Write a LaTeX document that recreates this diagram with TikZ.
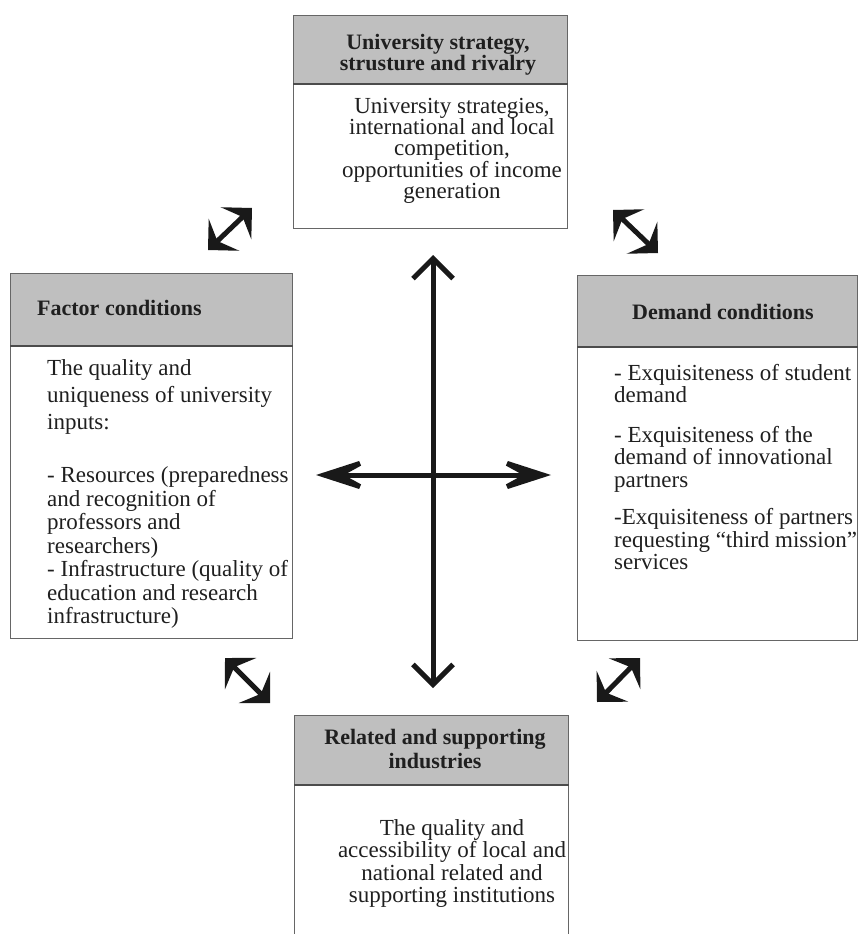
\documentclass[tikz,border=0pt]{standalone}
\usepackage{fontspec}
\setmainfont{Liberation Serif}
\usetikzlibrary{arrows.meta,positioning}
\tikzstyle{headbox}  = [draw=black!60, fill=black!25, line width=0.8pt, inner sep=0pt, anchor=north west]
\tikzstyle{bodybox}  = [draw=black!60, line width=0.8pt, inner sep=0pt, anchor=north west]
\tikzstyle{sepline}  = [draw=black!70, line width=1.6pt]
\tikzstyle{diagarrow} = [line width=5pt, black!90, {Stealth[length=22pt,width=44pt,inset=9pt]}-{Stealth[length=22pt,width=44pt,inset=9pt]}]

\begin{document}
\begin{tikzpicture}[x=1pt, y=-1pt, font=\fontsize{23}{23}\selectfont, text=black!88,
			title/.style={font=\fontsize{22}{22}\selectfont\bfseries, inner sep=0pt},
			txt/.style={inner sep=0pt},
		]
		\useasboundingbox (0,0) rectangle (858,934);

		% boxes
		\node[headbox, minimum width=274pt, minimum height=68pt] (strathead) at (293,15) {};
		\node[bodybox, minimum width=274pt, minimum height=145pt] (stratbody) at (293,83) {};
		\node[headbox, minimum width=282pt, minimum height=72pt] (factorhead) at (10,273) {};
		\node[bodybox, minimum width=282pt, minimum height=293pt] (factorbody) at (10,345) {};
		\node[headbox, minimum width=280pt, minimum height=71pt] (demandhead) at (577,275) {};
		\node[bodybox, minimum width=280pt, minimum height=294pt] (demandbody) at (577,346) {};
		\node[headbox, minimum width=274pt, minimum height=69pt] (relhead) at (294,715) {};
		\node[bodybox, minimum width=274pt, minimum height=170pt] (relbody) at (294,784) {};
		\foreach \b in {strathead,factorhead,demandhead,relhead}
			\draw[sepline] (\b.south west) -- (\b.south east);

		% titles
		\node[title, align=center, anchor=north, font=\fontsize{22}{21}\selectfont\bfseries] (strattitle) at (438,34) {University strategy,\\strusture and rivalry};
		\node[title, anchor=west] (factortitle) at (37,308) {Factor conditions};
		\node[title] (demandtitle) at (723,312) {Demand conditions};
		\node[title, align=center, anchor=north, font=\fontsize{22}{24}\selectfont\bfseries] (reltitle) at (435,729) {Related and supporting\\industries};

		% texts
		\node[txt, align=center, anchor=north, font=\fontsize{23}{21}\selectfont] (strattext) at (452,98) {University strategies,\\international and local\\competition,\\opportunities of income\\generation};
		\node[txt, align=left, anchor=north west, font=\fontsize{23}{23.5}\selectfont] (factortext) at (47,359) {The quality and\\[3.5pt]uniqueness of university\\[3.5pt]inputs:\\[30pt]- Resources (preparedness\\and recognition of\\professors and\\researchers)\\- Infrastructure (quality of\\education and research\\infrastructure)};
		\node[txt, align=left, anchor=north west, font=\fontsize{23}{22.5}\selectfont] (demandtext) at (614,364) {- Exquisiteness of student\\demand\\[17pt]- Exquisiteness of the\\demand of innovational\\partners\\[15pt]-Exquisiteness of partners\\requesting “third mission”\\services};
		\node[txt, align=center, anchor=north, font=\fontsize{23}{22.5}\selectfont] (reltext) at (452,819) {The quality and\\accessibility of local and\\national related and\\supporting institutions};

		% cross
		\coordinate (vtop) at (433,255);
		\coordinate (vbot) at (433,688);
		\coordinate (hleft) at (316,475);
		\coordinate (hright) at (551,475);
		\draw[line width=5pt, black!90, {Straight Barb[length=20pt,width=40pt]}-{Straight Barb[length=20pt,width=40pt]}] (vtop) -- (vbot);
		\draw[line width=5pt, black!90, {Stealth[length=68pt,width=44pt,inset=40pt]}-{Stealth[length=68pt,width=44pt,inset=40pt]}] (hleft) -- (hright);

		% diagonal arrows
		\coordinate (tla) at (208,250);
		\coordinate (tlb) at (252,208);
		\coordinate (tra) at (613,210);
		\coordinate (trb) at (658,253);
		\coordinate (bla) at (225,658);
		\coordinate (blb) at (270,703);
		\coordinate (bra) at (597,702);
		\coordinate (brb) at (640,658);
		\draw[diagarrow] (tla) -- (tlb);
		\draw[diagarrow] (tra) -- (trb);
		\draw[diagarrow] (bla) -- (blb);
		\draw[diagarrow] (bra) -- (brb);
	\end{tikzpicture}
\end{document}
